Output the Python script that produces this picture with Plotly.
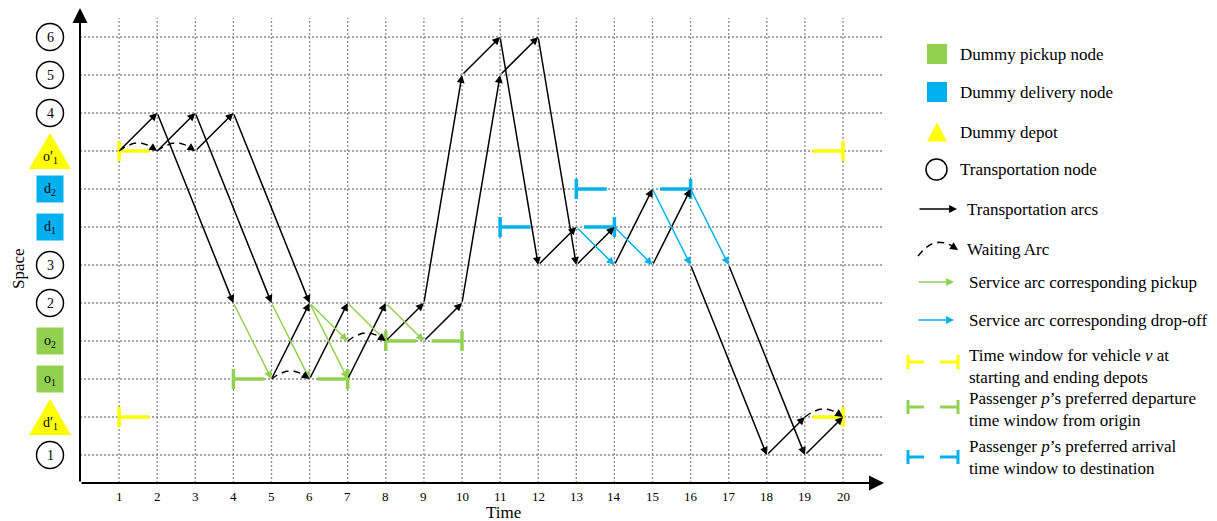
import plotly.graph_objects as go

# ---------------- data ----------------
levels = ["1", "d'1", "o1", "o2", "2", "3", "d1", "d2", "o'1", "4", "5", "6"]
level_kind = ["node", "depot", "pickup", "pickup", "node", "node",
              "delivery", "delivery", "depot", "node", "node", "node"]
level_text = ["1", "d′<sub>1</sub>", "o<sub>1</sub>", "o<sub>2</sub>", "2", "3",
              "d<sub>1</sub>", "d<sub>2</sub>", "o′<sub>1</sub>", "4", "5", "6"]
times = list(range(1, 21))

transport_arcs = [
    (1, "o'1", 2, "4"), (2, "4", 4, "2"), (2, "o'1", 3, "4"), (3, "4", 5, "2"),
    (3, "o'1", 4, "4"), (4, "4", 6, "2"), (5, "o1", 6, "2"), (6, "o1", 7, "2"),
    (7, "o1", 8, "2"), (8, "o2", 9, "2"), (9, "o2", 10, "2"), (9, "2", 10, "5"),
    (10, "2", 11, "5"), (10, "5", 11, "6"), (11, "5", 12, "6"), (11, "6", 12, "3"),
    (12, "6", 13, "3"), (12, "3", 13, "d1"), (13, "3", 14, "d1"), (14, "3", 15, "d2"),
    (15, "3", 16, "d2"), (16, "3", 18, "1"), (17, "3", 19, "1"), (18, "1", 19, "d'1"),
    (19, "1", 20, "d'1"),
]
pickup_arcs = [(4, "2", 5, "o1"), (5, "2", 6, "o1"), (6, "2", 7, "o2"),
               (6, "2", 7, "o1"), (7, "2", 8, "o2"), (8, "2", 9, "o2")]
dropoff_arcs = [(13, "d1", 14, "3"), (14, "d1", 15, "3"),
                (15, "d2", 16, "3"), (16, "d2", 17, "3")]
waiting_arcs = [(1, "o'1", 2), (2, "o'1", 3), (5, "o1", 6), (7, "o2", 8), (19, "d'1", 20)]
time_windows = [("o'1", 1, 20, "vehicle"), ("d'1", 1, 20, "vehicle"),
                ("o1", 4, 7, "departure"), ("o2", 8, 10, "departure"),
                ("d1", 11, 14, "arrival"), ("d2", 13, 16, "arrival")]

legend_labels = ["Dummy pickup node", "Dummy delivery node", "Dummy depot",
                 "Transportation node", "Transportation arcs", "Waiting Arc",
                 "Service arc corresponding pickup", "Service arc corresponding drop-off",
                 "Time window for vehicle <i>v</i> at<br>starting and ending depots",
                 "Passenger <i>p</i>’s preferred departure<br>time window from origin",
                 "Passenger <i>p</i>’s preferred arrival<br>time window to destination"]

# ---------------- style ----------------
GREEN = "#92D050"
BLUE = "#00B0F0"
YELLOW = "#FFFF00"
GRID = "#8a8a8a"
FONT = "Liberation Serif"
WIN_COLOR = {"vehicle": YELLOW, "departure": GREEN, "arrival": BLUE}
KIND_COLOR = {"pickup": GREEN, "delivery": BLUE, "depot": YELLOW}

# page has an 8px body margin: the figure is drawn 8px in from the top-left
OFF = 8
W, H = 1217, 521
PX_T, PX_L = 38.1, 38.0
X0PX, Y0PX = 81.0, 493.0
ARC_W = 1.5


def px2x(px):
    return (px - X0PX) / PX_T


def py2y(py):
    return (Y0PX - py) / PX_L


def dxp(p):
    return p / PX_T


def dyp(p):
    return p / PX_L


def lv(name):
    return levels.index(name) + 1


fig = go.Figure()
shapes = []
annotations = []


def arrow(x0, y0, x1, y1, color, width=ARC_W, size=1.05, head=2):
    annotations.append(dict(x=x1, y=y1, ax=x0, ay=y0, xref="x", yref="y",
                            axref="x", ayref="y", text="", showarrow=True,
                            arrowhead=head, arrowsize=size, arrowwidth=width,
                            arrowcolor=color, standoff=0, startstandoff=0))


def bezier(p0, p1, p2, n=30):
    pts = []
    for i in range(n + 1):
        s = i / n
        x = (1 - s) ** 2 * p0[0] + 2 * (1 - s) * s * p1[0] + s ** 2 * p2[0]
        y = (1 - s) ** 2 * p0[1] + 2 * (1 - s) * s * p1[1] + s ** 2 * p2[1]
        pts.append((x, y))
    return pts


def wait_curve(p0, p1, p2):
    pts = bezier(p0, p1, p2)
    fig.add_trace(go.Scatter(x=[p[0] for p in pts[:-3]], y=[p[1] for p in pts[:-3]],
                             mode="lines", line=dict(color="black", width=1.5, dash="7px,5px"),
                             hoverinfo="skip", showlegend=False))
    a = pts[-6]
    b = pts[-1]
    arrow(a[0], a[1], b[0], b[1], "black")


# ---------------- grid ----------------
gx, gy = [], []
for i in range(1, len(levels) + 1):
    gx += [px2x(80), px2x(882), None]
    gy += [i, i, None]
for t in times:
    gx += [t, t, None]
    gy += [py2y(483), py2y(18), None]
fig.add_trace(go.Scatter(x=gx, y=gy, mode="lines",
                         line=dict(color=GRID, width=1.3, dash="2px,2px"),
                         hoverinfo="skip", showlegend=False))

# ---------------- time windows ----------------
DASH = 0.8
for name, t0, t1, kind in time_windows:
    L = lv(name)
    c = WIN_COLOR[kind]
    xs = [t0, t0, None, t0, t0 + DASH, None, t1 - DASH, t1, None, t1, t1]
    ys = [L - dyp(10), L + dyp(10), None, L, L, None, L, L, None, L - dyp(10), L + dyp(10)]
    fig.add_trace(go.Scatter(x=xs, y=ys, mode="lines", line=dict(color=c, width=3.5),
                             hoverinfo="skip", showlegend=False))

# ---------------- arcs ----------------
for t0, n0, t1, n1 in transport_arcs:
    arrow(t0, lv(n0), t1, lv(n1), "black")
for t0, n0, t1, n1 in pickup_arcs:
    arrow(t0, lv(n0), t1, lv(n1), GREEN)
for t0, n0, t1, n1 in dropoff_arcs:
    arrow(t0, lv(n0), t1, lv(n1), BLUE)
for t0, n, t1 in waiting_arcs:
    L = lv(n)
    wait_curve((t0, L), ((t0 + t1) / 2, L + 0.42), (t1, L))

# ---------------- axes ----------------
arrow(px2x(80), py2y(483), px2x(884), py2y(483), "black", 2.0, 1.5)
arrow(px2x(80), py2y(483), px2x(80), py2y(8), "black", 2.0, 1.5)
for t in times:
    annotations.append(dict(x=t, y=py2y(496), xref="x", yref="y", text=str(t),
                            showarrow=False, font=dict(family=FONT, size=13, color="black")))
annotations.append(dict(x=px2x(503), y=py2y(512), xref="x", yref="y", text="Time",
                        showarrow=False, font=dict(family=FONT, size=17, color="black")))
annotations.append(dict(x=px2x(18), y=py2y(269), xref="x", yref="y", text="Space",
                        textangle=-90, showarrow=False,
                        font=dict(family=FONT, size=17, color="black")))


# ---------------- node icons ----------------
def icon(kind, cx, cy, size_px, line_w=1.5):
    hx = dxp(size_px / 2)
    hy = dyp(size_px / 2)
    if kind == "node":
        shapes.append(dict(type="circle", xref="x", yref="y", x0=cx - hx, x1=cx + hx,
                           y0=cy - hy, y1=cy + hy, line=dict(color="black", width=line_w),
                           fillcolor="white", layer="above"))
    elif kind in ("pickup", "delivery"):
        shapes.append(dict(type="rect", xref="x", yref="y", x0=cx - hx, x1=cx + hx,
                           y0=cy - hy, y1=cy + hy, line=dict(width=0),
                           fillcolor=KIND_COLOR[kind], layer="above"))


def triangle(cx, cy, w_px, h_px):
    hx = dxp(w_px / 2)
    hy = dyp(h_px / 2)
    path = f"M {cx - hx},{cy - hy} L {cx + hx},{cy - hy} L {cx},{cy + hy} Z"
    shapes.append(dict(type="path", xref="x", yref="y", path=path,
                       line=dict(width=0), fillcolor=YELLOW, layer="above"))


CX = px2x(50)
for i, (kind, txt) in enumerate(zip(level_kind, level_text)):
    L = i + 1
    if kind == "depot":
        triangle(CX, L, 42, 36)
        annotations.append(dict(x=CX, y=L - dyp(6), xref="x", yref="y", text=txt,
                                showarrow=False, font=dict(family=FONT, size=14, color="black")))
    else:
        icon(kind, CX, L, 27)
        annotations.append(dict(x=CX, y=L, xref="x", yref="y", text=txt,
                                showarrow=False, font=dict(family=FONT, size=14, color="black")))

# ---------------- legend ----------------
leg_y = [54, 92, 132, 169.5, 209, 249, 282, 320, 366, 409, 457]
leg_tx = [958, 958, 958, 958, 965, 965, 967, 967, 967, 967, 967]
for lab, y, tx in zip(legend_labels, leg_y, leg_tx):
    annotations.append(dict(x=px2x(tx), y=py2y(y), xref="x", yref="y", text=lab,
                            xanchor="left", align="left", showarrow=False,
                            font=dict(family=FONT, size=17, color="black")))
icon("pickup", px2x(937), py2y(leg_y[0]), 20)
icon("delivery", px2x(937), py2y(leg_y[1]), 20)
triangle(px2x(937), py2y(leg_y[2]), 20, 19)
icon("node", px2x(936.5), py2y(leg_y[3]), 21, 1.5)
arrow(px2x(918), py2y(leg_y[4]), px2x(957), py2y(leg_y[4]), "black")
wait_curve((px2x(918), py2y(256)), (px2x(936), py2y(232)), (px2x(958), py2y(250)))
arrow(px2x(917), py2y(leg_y[6]), px2x(954), py2y(leg_y[6]), GREEN)
arrow(px2x(917), py2y(leg_y[7]), px2x(954), py2y(leg_y[7]), BLUE)
for kind, y in zip(["vehicle", "departure", "arrival"], [362, 407, 457]):
    c = WIN_COLOR[kind]
    a, b = px2x(908), px2x(958)
    L = py2y(y)
    xs = [a, a, None, a, px2x(924), None, px2x(940), b, None, b, b]
    ys = [L - dyp(7), L + dyp(7), None, L, L, None, L, L, None, L - dyp(7), L + dyp(7)]
    fig.add_trace(go.Scatter(x=xs, y=ys, mode="lines", line=dict(color=c, width=3),
                             hoverinfo="skip", showlegend=False))

fig.update_layout(
    width=W - OFF, height=H - OFF, margin=dict(l=0, r=0, t=0, b=0),
    paper_bgcolor="white", plot_bgcolor="white", showlegend=False,
    xaxis=dict(range=[px2x(OFF), px2x(W)], visible=False, fixedrange=True),
    yaxis=dict(range=[py2y(H), py2y(OFF)], visible=False, fixedrange=True),
    shapes=shapes, annotations=annotations,
)
fig.write_html("out.html")
